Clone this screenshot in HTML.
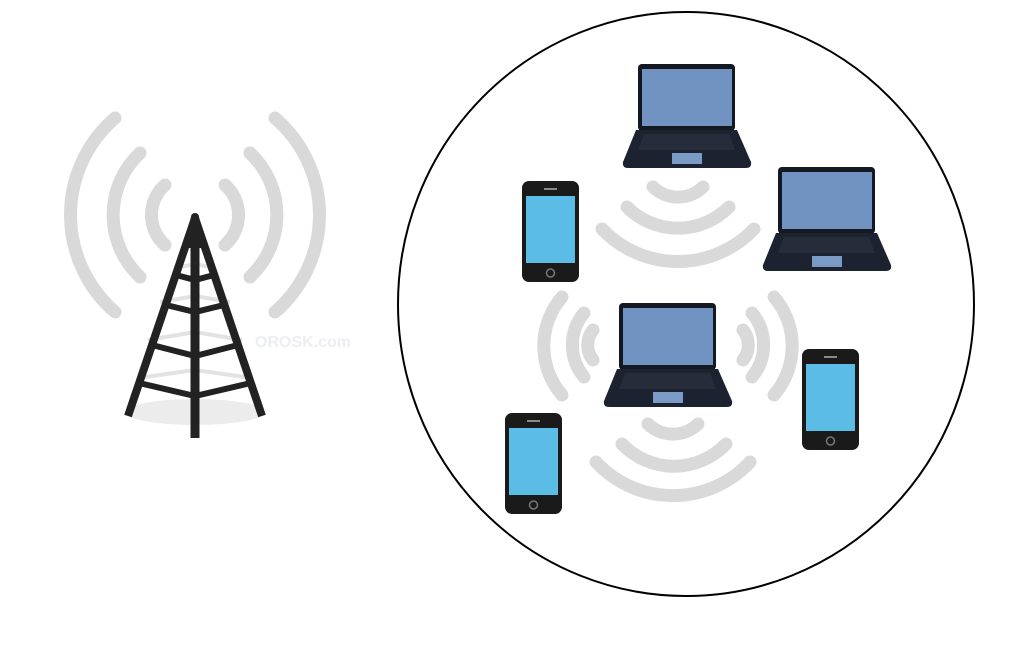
<!DOCTYPE html>
<html><head><meta charset="utf-8"><style>html,body{margin:0;padding:0;background:#fff}svg{display:block}</style></head>
<body>
<svg width="1024" height="658" viewBox="0 0 1024 658" xmlns="http://www.w3.org/2000/svg">
<defs>
<g id="lap">
  <rect x="16" y="0" width="97" height="67" rx="4" fill="#141820"/>
  <rect x="20" y="5" width="90" height="57" fill="#7193c2"/>
  <path d="M14 66 L115 66 L129 98 Q130 104 124 104 L6 104 Q0 104 1 98 Z" fill="#1c2230"/>
  <path d="M22 70 L107 70 L113 86 L16 86 Z" fill="#262c3a"/>
  <rect x="50" y="89" width="30" height="11" fill="#7a9bc6"/>
</g>
<g id="ph">
  <rect x="0" y="0" width="57" height="101" rx="7" fill="#1a1a1a"/>
  <rect x="4" y="15" width="49" height="67" fill="#5bbde6"/>
  <line x1="22" y1="8" x2="35" y2="8" stroke="#888" stroke-width="2"/>
  <circle cx="28.5" cy="92" r="4" fill="none" stroke="#777" stroke-width="1.5"/>
</g>
</defs>
<g fill="none" stroke="#d9d9d9" stroke-width="13" stroke-linecap="round">
  <path d="M165 185 A40 40 0 0 0 165 245"/>
  <path d="M225 185 A40 40 0 0 1 225 245"/>
  <path d="M140 153 A85 85 0 0 0 140 277"/>
  <path d="M250 153 A85 85 0 0 1 250 277"/>
  <path d="M115 118 A128 128 0 0 0 115 312"/>
  <path d="M275 118 A128 128 0 0 1 275 312"/>
  <path d="M653 187 A36 36 0 0 0 703 187"/>
  <path d="M627 207 A72 72 0 0 0 729 207"/>
  <path d="M602 229 A105 105 0 0 0 754 229"/>
  <path d="M648 424 A36 36 0 0 0 698 424"/>
  <path d="M622 444 A72 72 0 0 0 726 444"/>
  <path d="M596 462 A105 105 0 0 0 750 462"/>
  <path d="M593 330 A24 24 0 0 0 593 360"/>
  <path d="M743 330 A24 24 0 0 1 743 360"/>
  <path d="M584 313 A50 50 0 0 0 584 377"/>
  <path d="M752 313 A50 50 0 0 1 752 377"/>
  <path d="M562 297 A75 75 0 0 0 562 395"/>
  <path d="M774 297 A75 75 0 0 1 774 395"/>
</g>
<text x="255" y="347" font-family="Liberation Sans, sans-serif" font-weight="bold" font-size="16" fill="#eceef4">OROSK.com</text>
<ellipse cx="195" cy="412" rx="70" ry="13" fill="#ececec"/>
<g stroke="#e2e2e2" stroke-width="4" fill="none">
  <path d="M175 268 L195 264 L215 268"/><path d="M160 302 L195 296 L230 302"/><path d="M148 340 L195 332 L242 340"/><path d="M138 378 L195 370 L252 378"/>
</g>
<g stroke="#222" fill="none" stroke-linecap="butt">
  <path d="M195 218 L128 416" stroke-width="8"/>
  <path d="M195 218 L262 416" stroke-width="8"/>
  <path d="M195 218 L195 438" stroke-width="9"/>
  <path d="M186 246 L204 246" stroke-width="4"/>
  <path d="M176 275 L195 280 L214 275" stroke-width="6"/>
  <path d="M166 305 L195 312 L224 305" stroke-width="6"/>
  <path d="M152 345 L195 356 L238 345" stroke-width="6"/>
  <path d="M139 383 L195 396 L251 383" stroke-width="6"/>
</g>
<circle cx="195" cy="217" r="4" fill="#222"/>
<ellipse cx="686" cy="304" rx="288" ry="292" fill="none" stroke="#000" stroke-width="2"/>
<use href="#lap" x="622" y="64"/>
<use href="#lap" x="762" y="167"/>
<use href="#lap" x="603" y="303"/>
<use href="#ph" x="522" y="181"/>
<use href="#ph" x="802" y="349"/>
<use href="#ph" x="505" y="413"/>
</svg>
</body></html>
